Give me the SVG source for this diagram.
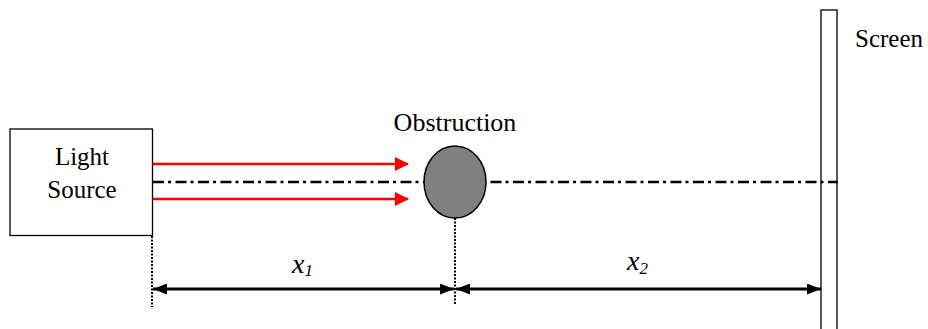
<svg xmlns="http://www.w3.org/2000/svg" width="928" height="329" viewBox="0 0 928 329">
<style>
.lbl{font-size:25px}
.it{font-style:italic}
.box{fill:#fff;stroke:#000;stroke-width:1.3}
.dot{stroke:#000;stroke-width:2;stroke-dasharray:2,1.5;fill:none}
.ray{stroke:#f00;stroke-width:2.5;fill:none}
.dim{stroke:#000;stroke-width:3;fill:none}
</style>
<defs>
<marker id="redhead" markerUnits="userSpaceOnUse" markerWidth="14" markerHeight="14" viewBox="0 0 14 14" refX="13" refY="7" orient="auto">
<path d="M0,0 L14,7 L0,14 Z" fill="#f00"/>
</marker>
<marker id="blkhead" markerUnits="userSpaceOnUse" markerWidth="14" markerHeight="11" viewBox="0 0 14 11" refX="14" refY="5.5" orient="auto-start-reverse">
<path d="M0,0 L14,5.5 L0,11 Z" fill="#000"/>
</marker>
</defs>
<rect width="928" height="329" fill="#fff"/>
<g font-family="'Liberation Serif', 'Times New Roman', Tinos, 'Nimbus Roman', FreeSerif, 'DejaVu Serif', serif" fill="#000">
<g id="screen">
<rect class="box" x="821" y="10" width="16" height="330"/>
<text class="lbl" x="855" y="47">Screen</text>
</g>
<g id="light-source">
<rect class="box" x="10" y="129" width="142.5" height="106.5"/>
<text class="lbl" x="82" y="165" text-anchor="middle">Light</text>
<text class="lbl" x="82" y="198" text-anchor="middle">Source</text>
</g>
<g id="connectors">
<line class="ray" x1="153" y1="164" x2="408" y2="164" marker-end="url(#redhead)"/>
<line class="ray" x1="153" y1="199" x2="408" y2="199" marker-end="url(#redhead)"/>
<line x1="153" y1="182" x2="838" y2="182" stroke="#000" stroke-width="2.6" stroke-dasharray="11,4,3,4.5"/>
<line class="dot" x1="152" y1="236" x2="152" y2="307"/>
<line class="dot" x1="455" y1="218" x2="455" y2="304"/>
<line class="dim" x1="153" y1="289" x2="454" y2="289" marker-start="url(#blkhead)" marker-end="url(#blkhead)"/>
<line class="dim" x1="456" y1="289" x2="821" y2="289" marker-start="url(#blkhead)" marker-end="url(#blkhead)"/>
</g>
<g id="obstruction">
<ellipse cx="455" cy="182" rx="31" ry="36" fill="#808080" stroke="#000" stroke-width="1.5"/>
<text x="455" y="131" font-size="26" text-anchor="middle">Obstruction</text>
</g>
<g id="label-x1">
<text class="it" x="292" y="273" font-size="28">x<tspan font-size="17" dy="3">1</tspan></text>
</g>
<g id="label-x2">
<text class="it" x="627" y="270" font-size="28">x<tspan font-size="17" dy="4">2</tspan></text>
</g>
</g>
</svg>
